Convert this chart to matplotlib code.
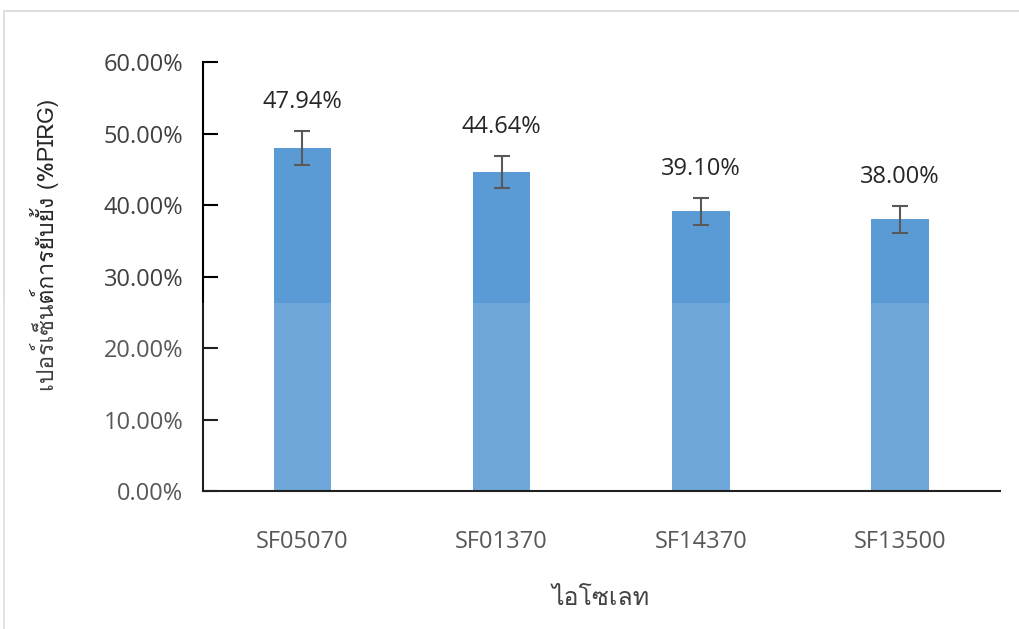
import matplotlib.pyplot as plt
import matplotlib.patches as mpatches
from matplotlib import font_manager
from matplotlib.ft2font import FT2Font
import numpy as np

isolates = ["SF05070", "SF01370", "SF14370", "SF13500"]
pirg = [47.94, 44.64, 39.10, 38.00]
err = [2.4, 2.25, 1.95, 1.9]
y_ticks = [0, 10, 20, 30, 40, 50, 60]
ylabel_text = "เปอร์เซ็นต์การยับยั้ง (%PIRG)"
xlabel_text = "ไอโซเลท"


# find a font that can draw Thai
thai_font = None
for f in font_manager.fontManager.ttflist:
    try:
        cm = FT2Font(f.fname).get_charmap()
    except Exception:
        continue
    if 0x0E44 in cm and 0x0E22 in cm:
        thai_font = f.name
        break

base = "Open Sans"
fam = [thai_font, base, "DejaVu Sans"] if thai_font else [base, "DejaVu Sans"]
plt.rcParams['font.family'] = [base, "DejaVu Sans"]

fig = plt.figure(figsize=(10.19, 6.29), dpi=100)
ax = fig.add_axes([0.199, 0.2194, 0.782, 0.682])

x = np.arange(len(isolates))
ax.bar(x, pirg, width=0.29, color="#5B9BD5", zorder=2)
ax.errorbar(x, pirg, yerr=err, fmt="none", ecolor="#595959", elinewidth=1.5,
            capsize=6, capthick=1.5, zorder=3)

for xi, v, e in zip(x, pirg, err):
    ax.annotate("%.2f%%" % v, (xi, v + e), xytext=(0, 12), textcoords="offset points",
                ha="center", va="bottom", fontsize=17, color="#262626")

ax.set_xlim(-0.5, 3.5)
ax.set_ylim(0, 60)
ax.set_yticks(y_ticks)
ax.set_yticklabels(["%.2f%%" % t for t in y_ticks])
ax.set_xticks(x)
ax.set_xticklabels(isolates)
ax.tick_params(axis="y", direction="in", length=11, width=1.5, labelsize=17,
               labelcolor="#404040", pad=14)
ax.tick_params(axis="x", length=0, labelsize=17, labelcolor="#404040", pad=28)
for s in ["top", "right"]:
    ax.spines[s].set_visible(False)
for s in ["left", "bottom"]:
    ax.spines[s].set_linewidth(1.5)
    ax.spines[s].set_color("black")

ax.set_ylabel(ylabel_text, family=fam, fontsize=16.5, color="#262626")
ax.yaxis.set_label_coords(-0.18, 0.573)
ax.set_xlabel(xlabel_text, family=fam, fontsize=18, color="#262626", labelpad=24)

# light frame around the chart area
fig.patches.append(mpatches.Rectangle((4 / 1019, -0.1), 1.1, (629 - 11) / 629 + 0.1,
                                      transform=fig.transFigure, fill=False,
                                      edgecolor="#d9d9d9", linewidth=1.2))
# faint watermark wash over the lower half
fig.patches.append(mpatches.Rectangle((0, 0), 1, (629 - 303) / 629,
                                      transform=fig.transFigure, facecolor="white",
                                      alpha=0.13, edgecolor="none", zorder=10))

fig.savefig("out.png", dpi=100)
